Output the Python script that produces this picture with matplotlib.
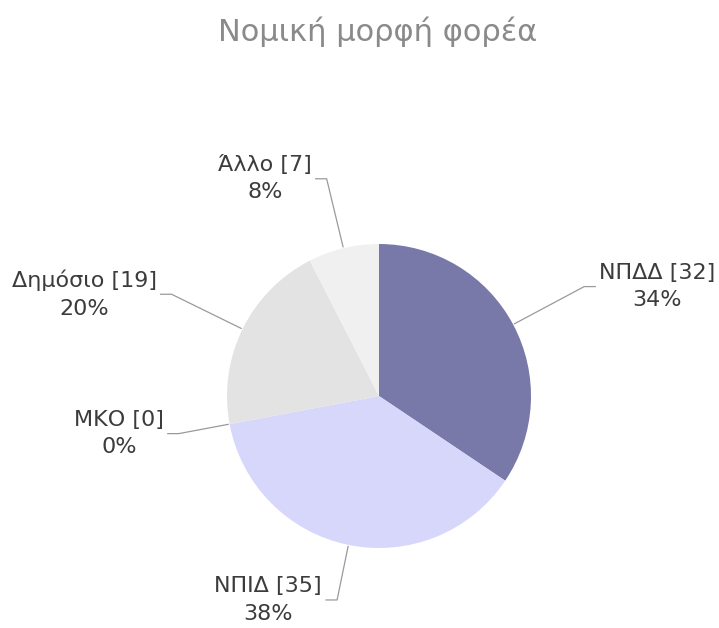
import numpy as np
import matplotlib.pyplot as plt

# δεδομένα
categories = ['ΝΠΔΔ', 'ΝΠΙΔ', 'ΜΚΟ', 'Δημόσιο', 'Άλλο']
values = [32, 35, 0, 19, 7]
colors = ['#7879a9', '#d7d7fb', '#d0d0d0', '#e3e3e3', '#f0f0f0']
title = 'Νομική μορφή φορέα'

# απόσταση του "αγκώνα" της γραμμής (σε ακτίνες)
elbow = [1.53, 1.37, 1.34, 1.52, 1.47]

W, H = 719, 628
fig = plt.figure(figsize=(W / 100, H / 100), dpi=100)
ax = fig.add_axes([0, 0, 1, 1])

cx, cy, R = 379, H - 396, 152
wedges, _ = ax.pie(values, colors=colors, startangle=90, counterclock=False,
                   center=(cx, cy), radius=R, frame=True,
                   wedgeprops=dict(linewidth=0))
ax.set_xlim(0, W)
ax.set_ylim(0, H)
ax.axis('off')

total = sum(values)
for w, cat, v, e in zip(wedges, categories, values, elbow):
    ang = np.deg2rad((w.theta1 + w.theta2) / 2)
    c, s = np.cos(ang), np.sin(ang)
    p0 = (cx + R * 1.01 * c, cy + R * 1.01 * s)
    p1 = (cx + R * e * c, cy + R * e * s)
    side = 1 if c >= 0 else -1
    p2 = (p1[0] + side * 11, p1[1])
    ax.plot([p0[0], p1[0], p2[0]], [p0[1], p1[1], p2[1]], color='#9a9a9a', lw=0.9)
    pct = round(v / total * 100)
    ax.text(p2[0] + side * 4, p2[1], f'{cat} [{v}]\n{pct}%',
            ha='left' if side > 0 else 'right', va='center',
            multialignment='center', fontsize=16, color='#3c3c3c',
            linespacing=1.45)

fig.text(378 / W, 1 - 32 / H, title, ha='center', va='center',
         fontsize=22, color='#8a8a8a')

fig.savefig('out.png', dpi=100, facecolor='white')
